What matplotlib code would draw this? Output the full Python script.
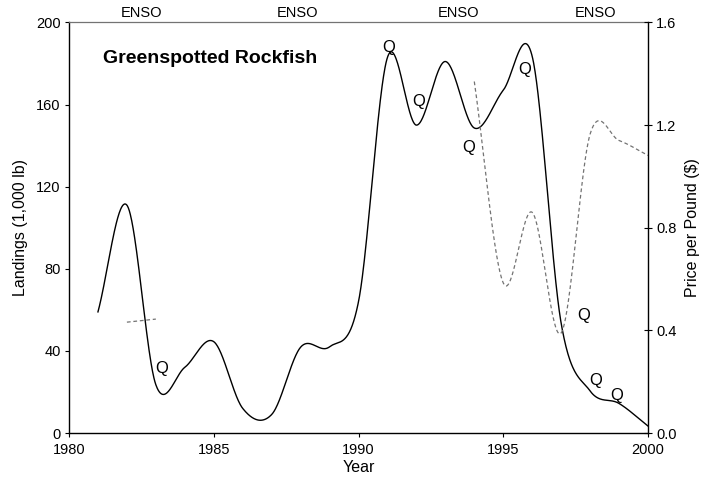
import numpy as np
import matplotlib
matplotlib.use("Agg")
import matplotlib.pyplot as plt
from matplotlib.ticker import FormatStrFormatter

plt.rcParams['font.family'] = ['Liberation Sans', 'DejaVu Sans']

# ---- data ----
years = [1981, 1982, 1983, 1984, 1985, 1986, 1987, 1988, 1989, 1990,
         1991, 1992, 1993, 1994, 1995, 1996, 1997, 1998, 1999, 2000]
landings = [59, 111, 23.5, 32, 44.5, 12, 9, 41.8, 42, 64,
            183, 150, 181, 148.6, 167, 183.5, 53.5, 20.5, 14.4, 3.4]

price_years_a = [1982, 1983]
price_a = [0.432, 0.444]
price_years_b = [1994, 1995, 1996, 1997, 1998, 1999, 2000]
price_b = [1.37, 0.585, 0.86, 0.39, 1.165, 1.14, 1.082]

q_x = [1991.03, 1992.07, 1993.79, 1995.75, 1997.79, 1998.2, 1998.92, 1983.21]
q_y = [187.6, 161.7, 139, 177.1, 57.4, 25.8, 18.5, 31.5]

enso_x = [1982.49, 1987.89, 1993.47, 1998.17]
enso_label = "ENSO"
title = "Greenspotted Rockfish"


def catmull_rom(x, y, per=60):
    x = np.asarray(x, float)
    y = np.asarray(y, float)
    m = len(x)
    if m < 3:
        xs = np.linspace(x[0], x[-1], per)
        return xs, np.interp(xs, x, y)
    t = np.zeros(m)
    t[1:-1] = (y[2:] - y[:-2]) / (x[2:] - x[:-2])
    t[0] = (y[1] - y[0]) / (x[1] - x[0])
    t[-1] = (y[-1] - y[-2]) / (x[-1] - x[-2])
    xs_all, ys_all = [], []
    for i in range(m - 1):
        h = x[i + 1] - x[i]
        s = np.linspace(0, 1, per, endpoint=(i == m - 2))
        h00 = 2 * s**3 - 3 * s**2 + 1
        h10 = s**3 - 2 * s**2 + s
        h01 = -2 * s**3 + 3 * s**2
        h11 = s**3 - s**2
        xs_all.append(x[i] + s * h)
        ys_all.append(h00 * y[i] + h10 * h * t[i] + h01 * y[i + 1] + h11 * h * t[i + 1])
    return np.concatenate(xs_all), np.concatenate(ys_all)


fig = plt.figure(figsize=(7.05, 4.9), dpi=100)
W, H = 705, 490
left, right, top, bottom = 69, 648, 22.5, 433
ax = fig.add_axes([left / W, (H - bottom) / H, (right - left) / W, (bottom - top) / H])
ax2 = ax.twinx()

xs, ys = catmull_rom(years, landings)
ax.plot(xs, ys, color='black', lw=1.0)

for px, py in [(price_years_a, price_a), (price_years_b, price_b)]:
    sx, sy = catmull_rom(px, py)
    ax2.plot(sx, sy, color='0.45', lw=0.9, dashes=(3, 2.2))

ax.set_xlim(1980, 2000)
ax.set_ylim(0, 200)
ax2.set_ylim(0, 1.6)
ax.set_xticks([1980, 1985, 1990, 1995, 2000])
ax.set_yticks([0, 40, 80, 120, 160, 200])
ax2.set_yticks([0.0, 0.4, 0.8, 1.2, 1.6])
ax2.yaxis.set_major_formatter(FormatStrFormatter('%.1f'))

for a in (ax, ax2):
    for s in a.spines.values():
        s.set_visible(False)
ax.spines['left'].set_visible(True)
ax.spines['bottom'].set_visible(True)
ax.spines['top'].set_visible(True)
ax.spines['top'].set_color('0.45')
ax.spines['top'].set_linewidth(0.9)
ax.spines['left'].set_linewidth(1.0)
ax.spines['bottom'].set_linewidth(1.0)
ax2.spines['right'].set_visible(True)
ax2.spines['right'].set_linewidth(1.0)

ax.tick_params(axis='both', direction='out', length=3, width=0.8, labelsize=10.5, pad=3)
ax.tick_params(axis='x', top=False, pad=4)
ax2.tick_params(axis='y', direction='inout', length=6, width=0.8, labelsize=10.5, pad=3)

ax.set_xlabel('Year', fontsize=11.5, labelpad=2)
ax.set_ylabel('Landings (1,000 lb)', fontsize=11.5, labelpad=6)
ax2.set_ylabel('Price per Pound ($)', fontsize=11.5, labelpad=6)

ax.text(1981.18, 182.5, title, fontsize=14, fontweight='bold', ha='left', va='center')

for qx, qy in zip(q_x, q_y):
    ax.text(qx, qy, 'Q', fontsize=12, ha='center', va='center')

for ex in enso_x:
    ax.text(ex, 1.023, enso_label, transform=ax.get_xaxis_transform(),
            fontsize=10.5, ha='center', va='center')

fig.savefig('out.png', dpi=100)
